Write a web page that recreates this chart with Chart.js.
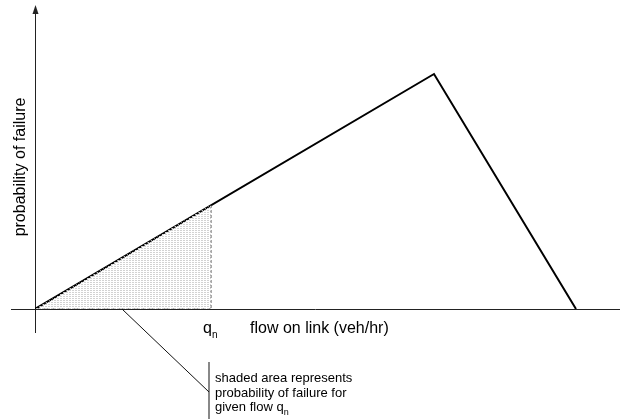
<!DOCTYPE html>
<html>
<head>
<meta charset="utf-8">
<script src="https://cdn.jsdelivr.net/npm/chart.js@4.4.0/dist/chart.umd.min.js"></script>
<style>
  html, body { margin: 0; padding: 0; background: #fff; }
  #wrap { position: relative; width: 620px; height: 419px; }
</style>
</head>
<body>
<div id="wrap"><canvas id="chart"></canvas></div>
<script>
// Failure curve (schematic units), shaded region up to q_n
const curveX = [0, 399, 541];
const curveY = [0, 235, 0];
const qnX = 176;
const qnY = 104;
const leaderX = [87, 174];
const leaderY = [0, -83];
const barX = [174, 174];
const barY = [-53, -110];
const noteLines = ['shaded area represents', 'probability of failure for', 'given flow q'];

const FONT = '"Liberation Sans", Arial, sans-serif';

function toPoints(xs, ys) {
  return xs.map((x, i) => ({ x: x, y: ys[i] }));
}

// dotted grey fill like the original hatch
function makePattern() {
  const c = document.createElement('canvas');
  c.width = 3;
  c.height = 2;
  const g = c.getContext('2d');
  g.fillStyle = '#d2d2d2';
  g.fillRect(0, 0, 2, 1);
  return g.createPattern(c, 'repeat');
}

const axesPlugin = {
  id: 'axesPlugin',
  beforeDatasetsDraw(chart) {
    const ctx = chart.ctx;
    const sx = chart.scales.x, sy = chart.scales.y;
    const x0 = Math.round(sx.getPixelForValue(0)) + 0.5;
    const y0 = Math.round(sy.getPixelForValue(0)) + 0.5;
    ctx.save();
    ctx.strokeStyle = '#222';
    ctx.lineWidth = 1;
    ctx.beginPath();
    ctx.moveTo(11, y0);
    ctx.lineTo(620, y0);
    ctx.moveTo(x0, 333);
    ctx.lineTo(x0, 12);
    ctx.stroke();
    // arrow head
    ctx.fillStyle = '#222';
    ctx.beginPath();
    ctx.moveTo(x0, 5);
    ctx.lineTo(x0 - 3, 14);
    ctx.lineTo(x0 + 3, 14);
    ctx.closePath();
    ctx.fill();
    ctx.restore();
  },
  afterDraw(chart) {
    const ctx = chart.ctx;
    ctx.save();
    ctx.fillStyle = '#000';
    ctx.textBaseline = 'alphabetic';
    ctx.textAlign = 'left';

    // y axis title
    ctx.save();
    ctx.translate(25, 167);
    ctx.rotate(-Math.PI / 2);
    ctx.textAlign = 'center';
    ctx.font = '16px ' + FONT;
    ctx.fillText('probability of failure', 0, 0);
    ctx.restore();

    // q_n tick label
    ctx.font = '16px ' + FONT;
    ctx.fillText('q', 203, 333);
    ctx.font = '10px ' + FONT;
    ctx.fillText('n', 212, 338);

    // x axis title
    ctx.font = '16px ' + FONT;
    ctx.fillText('flow on link (veh/hr)', 250, 333);

    // note
    ctx.font = '13px ' + FONT;
    noteLines.forEach((t, i) => ctx.fillText(t, 215, 382 + i * 14.5));
    const w = ctx.measureText(noteLines[2]).width;
    ctx.font = '9px ' + FONT;
    ctx.fillText('n', 215 + w, 415);
    ctx.restore();
  }
};

const ctx = document.getElementById('chart').getContext('2d');
new Chart(ctx, {
  type: 'scatter',
  data: {
    datasets: [
      {
        // shaded area under curve up to q_n
        data: toPoints([0, qnX], [0, qnY]),
        showLine: true,
        fill: 'origin',
        backgroundColor: makePattern(),
        borderWidth: 0,
        pointRadius: 0
      },
      {
        data: toPoints([qnX, qnX, 0], [qnY, 0, 0]),
        showLine: true,
        borderColor: '#555',
        borderWidth: 1,
        borderDash: [3, 2],
        pointRadius: 0
      },
      {
        data: toPoints(curveX, curveY),
        showLine: true,
        borderColor: '#000',
        borderWidth: 2,
        pointRadius: 0
      },
      {
        data: toPoints(leaderX, leaderY),
        showLine: true,
        borderColor: '#111',
        borderWidth: 1,
        pointRadius: 0,
        clip: false
      },
      {
        data: toPoints(barX, barY),
        showLine: true,
        borderColor: '#888',
        borderWidth: 2,
        pointRadius: 0,
        clip: false
      }
    ]
  },
  options: {
    responsive: true,
    maintainAspectRatio: false,
    animation: false,
    layout: { padding: { left: 35, right: 5, top: 5, bottom: 110 } },
    plugins: {
      legend: { display: false },
      tooltip: { enabled: false }
    },
    scales: {
      x: { type: 'linear', min: 0, max: 580, display: false },
      y: { type: 'linear', min: 0, max: 304, display: false }
    }
  },
  plugins: [axesPlugin]
});
</script>
</body>
</html>
